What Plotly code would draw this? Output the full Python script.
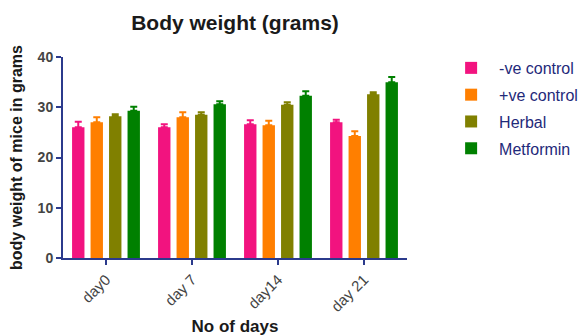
import plotly.graph_objects as go

days = ["day0", "day 7", "day14", "day 21"]
series_names = ["-ve control", "+ve control", "Herbal", "Metformin"]
neg_control = [26.0, 26.0, 26.6, 27.0]
neg_control_err = [1.1, 0.6, 0.8, 0.5]
pos_control = [27.0, 28.0, 26.4, 24.3]
pos_control_err = [1.0, 1.0, 0.9, 0.9]
herbal = [28.2, 28.5, 30.5, 32.6]
herbal_err = [0.4, 0.5, 0.5, 0.4]
metformin = [29.3, 30.6, 32.3, 35.0]
metformin_err = [0.8, 0.6, 0.9, 1.0]
y_ticks = [0, 10, 20, 30, 40]

colors = ["#f2137f", "#ff7f00", "#808000", "#008000"]
values = [neg_control, pos_control, herbal, metformin]
errors = [neg_control_err, pos_control_err, herbal_err, metformin_err]

FONT = "Liberation Sans, Arial, sans-serif"
AXIS = "#2b3a8c"

fig = go.Figure()
for i, (name, vals, errs, col) in enumerate(zip(series_names, values, errors, colors)):
    fig.add_trace(go.Bar(
        x=days, y=vals, name=name, marker=dict(color=col, line=dict(width=0)),
        error_y=dict(type="data", array=errs, arrayminus=[0] * len(errs), symmetric=False,
                     color=col, thickness=2, width=3.5),
        legendgroup=f"g{i}",
    ))

fig.update_layout(
    width=587, height=336,
    margin=dict(l=63, r=180, t=57, b=78, autoexpand=False),
    paper_bgcolor="white", plot_bgcolor="white",
    barmode="group", bargap=0.14, bargroupgap=0.33,
    title=dict(text="Body weight (grams)", x=0.5, xref="paper", xanchor="center",
               y=1 - 23 / 336, yanchor="middle",
               font=dict(family=FONT, size=21, color="#1a1a1a", weight="bold")),
    legend=dict(x=1.105, y=1.03, xanchor="left", yanchor="top",
                font=dict(family=FONT, size=16, color="#1f2a7a"),
                itemwidth=46, tracegroupgap=3, traceorder="grouped",
                bgcolor="rgba(0,0,0,0)"),
    showlegend=True,
)
fig.update_xaxes(
    automargin=False,
    showline=True, linecolor=AXIS, linewidth=2, ticks="outside", tickcolor=AXIS,
    ticklen=5, tickwidth=2, tickangle=-45, showgrid=False,
    tickfont=dict(family=FONT, size=15, color="#444444"),
    title=dict(text="No of days", standoff=21,
               font=dict(family=FONT, size=17, color="#1a1a1a", weight="bold")),
)
fig.update_yaxes(
    automargin=False,
    range=[0, 40], tickvals=y_ticks, showline=True, linecolor=AXIS, linewidth=2,
    ticks="outside", tickcolor=AXIS, ticklen=5, tickwidth=2, showgrid=False, zeroline=False,
    tickfont=dict(family=FONT, size=14, color="#444444", weight="bold"),
    title=dict(text="body weight of mice in grams", standoff=11,
               font=dict(family=FONT, size=16, color="#1a1a1a", weight="bold")),
)

fig.write_html("out.html", config={"displayModeBar": False},
               post_script="document.body.style.margin='0px';document.body.style.overflow='hidden';")
